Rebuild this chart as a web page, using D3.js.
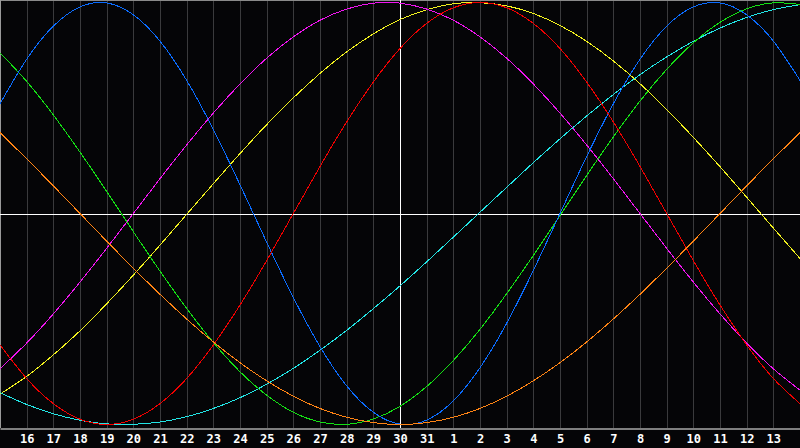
<!DOCTYPE html>
<html>
<head>
<meta charset="utf-8">
<script src="https://cdn.jsdelivr.net/npm/d3@7"></script>
<style>
  html, body { margin: 0; padding: 0; background: #050507; }
  svg { display: block; }
</style>
</head>
<body>
<svg id="chart" width="800" height="448"></svg>
<script>
// Day positions: sample days run from 15 (left edge) to 14 (right edge)
const sampleDays = [15,16,17,18,19,20,21,22,23,24,25,26,27,28,29,30,31,1,2,3,4,5,6,7,8,9,10,11,12,13,14];
const labelDays = [16,17,18,19,20,21,22,23,24,25,26,27,28,29,30,31,1,2,3,4,5,6,7,8,9,10,11,12,13];
const todayDay = 30;

// Cycle values (-1..1) read at each day line
const physical = [0.520,0.731,0.888,0.979,0.998,0.942,0.817,0.631,0.398,0.136,-0.136,-0.398,-0.631,-0.817,-0.942,-0.998,-0.979,-0.888,-0.731,-0.520,-0.270,0.000,0.270,0.520,0.731,0.888,0.979,0.998,0.942,0.817,0.631];
const emotional = [-0.623,-0.782,-0.901,-0.975,-1.000,-0.975,-0.901,-0.782,-0.623,-0.434,-0.223,0.000,0.223,0.434,0.623,0.782,0.901,0.975,1.000,0.975,0.901,0.782,0.623,0.434,0.223,0.000,-0.223,-0.434,-0.623,-0.782,-0.901];
const intellectual = [0.762,0.626,0.467,0.291,0.105,-0.086,-0.273,-0.450,-0.611,-0.750,-0.861,-0.942,-0.988,-0.999,-0.974,-0.914,-0.820,-0.697,-0.549,-0.380,-0.199,-0.010,0.180,0.363,0.533,0.683,0.809,0.906,0.970,0.998,0.991];
const intuitive = [-0.736,-0.614,-0.476,-0.325,-0.165,0.000,0.165,0.325,0.476,0.614,0.736,0.837,0.916,0.969,0.997,0.997,0.969,0.916,0.837,0.736,0.614,0.476,0.325,0.165,0.000,-0.165,-0.325,-0.476,-0.614,-0.736,-0.837];
const aesthetic = [-0.856,-0.772,-0.670,-0.556,-0.428,-0.292,-0.150,-0.004,0.141,0.284,0.421,0.548,0.664,0.766,0.851,0.919,0.966,0.994,0.999,0.984,0.948,0.891,0.816,0.723,0.615,0.493,0.361,0.222,0.077,-0.069,-0.213];
const awareness = [0.383,0.259,0.131,0.000,-0.131,-0.259,-0.383,-0.500,-0.609,-0.707,-0.793,-0.866,-0.924,-0.966,-0.991,-1.000,-0.991,-0.966,-0.924,-0.866,-0.793,-0.707,-0.609,-0.500,-0.383,-0.259,-0.131,0.000,0.131,0.259,0.383];
const spiritual = [-0.849,-0.905,-0.949,-0.980,-0.997,-0.999,-0.988,-0.963,-0.924,-0.873,-0.809,-0.734,-0.648,-0.554,-0.451,-0.343,-0.229,-0.112,0.006,0.124,0.241,0.354,0.462,0.564,0.658,0.742,0.816,0.879,0.929,0.966,0.990];

const seriesNames = ["aesthetic","spiritual","intuitive","intellectual","physical","emotional","awareness"];
const seriesValues = [aesthetic, spiritual, intuitive, intellectual, physical, emotional, awareness];
const seriesColors = ["#f2f21e","#22e6e6","#f014f0","#14e014","#0a6cff","#f00000","#ff8414"];

const W = 800, H = 448, plotBottom = 428;
const svg = d3.select("#chart");
svg.append("rect").attr("width", W).attr("height", H).attr("fill", "#050507");

const x = d3.scaleLinear().domain([0, sampleDays.length - 1]).range([0, W]);
const y = d3.scaleLinear().domain([-1, 1]).range([424.5, 2.5]);

svg.append("clipPath").attr("id", "plotclip")
  .append("rect").attr("x", 0).attr("y", 0).attr("width", W).attr("height", plotBottom);

// vertical day grid lines
const labelIdx = labelDays.map((d, i) => i + 1);
svg.append("g").selectAll("line").data(labelIdx).join("line")
  .attr("x1", d => Math.round(x(d)) + 0.5).attr("x2", d => Math.round(x(d)) + 0.5)
  .attr("y1", 0).attr("y2", plotBottom)
  .attr("stroke", "#3a3a3c").attr("stroke-width", 1);

// borders
svg.append("line").attr("x1", 0).attr("x2", W).attr("y1", 0.5).attr("y2", 0.5).attr("stroke", "#8a8a8a");
svg.append("line").attr("x1", 0.5).attr("x2", 0.5).attr("y1", 0).attr("y2", plotBottom).attr("stroke", "#9a9a9a");

// zero line and today line
svg.append("line").attr("x1", 0).attr("x2", W)
  .attr("y1", Math.round(y(0)) + 0.5).attr("y2", Math.round(y(0)) + 0.5)
  .attr("stroke", "#ffffff").attr("stroke-width", 1);
const todayIdx = sampleDays.indexOf(todayDay);
svg.append("line")
  .attr("x1", Math.round(x(todayIdx)) + 0.5).attr("x2", Math.round(x(todayIdx)) + 0.5)
  .attr("y1", 0).attr("y2", plotBottom)
  .attr("stroke", "#ffffff").attr("stroke-width", 1);

// curves
const line = d3.line().x((d, i) => x(i)).y(d => y(d)).curve(d3.curveNatural);
svg.append("g").attr("clip-path", "url(#plotclip)")
  .selectAll("path").data(seriesValues).join("path")
  .attr("d", d => line(d))
  .attr("fill", "none")
  .attr("stroke", (d, i) => seriesColors[i])
  .attr("stroke-width", 1)
  .attr("shape-rendering", "crispEdges");

// bottom axis with day labels
const axis = d3.axisBottom(x)
  .tickValues(labelIdx)
  .tickFormat((d, i) => labelDays[i])
  .tickSize(0).tickSizeOuter(0).tickPadding(6);
const ax = svg.append("g").attr("transform", `translate(0,${plotBottom + 0.5})`).call(axis);
ax.select(".domain").attr("stroke", "#a8a8a8").attr("stroke-width", 1.5);
ax.selectAll("text")
  .attr("fill", "#ffffff")
  .attr("font-family", "'DejaVu Sans Mono', monospace")
  .attr("font-weight", "bold")
  .attr("font-size", 12);
</script>
</body>
</html>
